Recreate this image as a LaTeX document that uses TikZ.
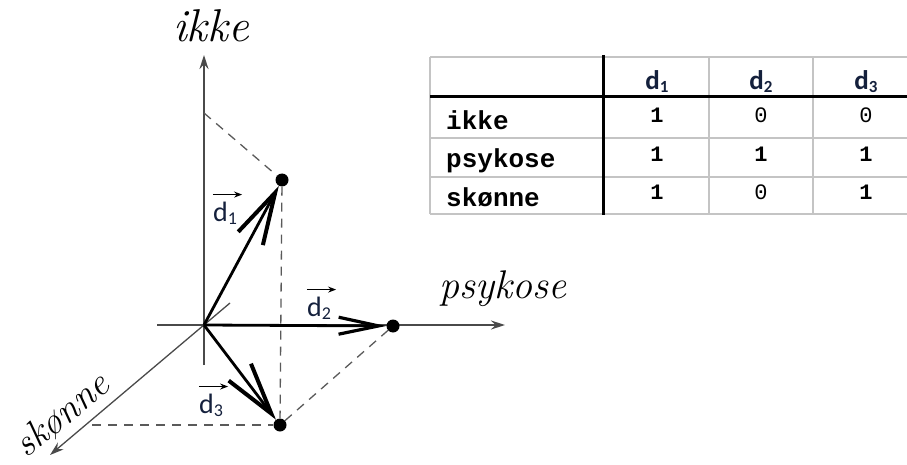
\documentclass[tikz,border=0pt]{standalone}
\usepackage{fontspec}
\newfontfamily\monof{Liberation Mono}
\newfontfamily\calib{Carlito}
\usetikzlibrary{arrows.meta}
\definecolor{axisgray}{HTML}{4A4A4A}
\definecolor{dashgray}{HTML}{5A5A5A}
\definecolor{gridgray}{HTML}{C4C4C4}
\definecolor{labink}{HTML}{14203C}
\newcommand{\vsub}[1]{d\raisebox{-3pt}{\fontsize{18}{18}\selectfont #1}}
\newcommand{\hsub}[1]{d\raisebox{-3pt}{\fontsize{17}{17}\selectfont #1}}
\tikzset{
 axisline/.style={draw=axisgray, line width=1.3pt, -{Stealth[length=14pt,width=9pt]}},
 guide/.style={draw=dashgray, line width=1.3pt, dash pattern=on 9pt off 7pt},
 vdot/.style={circle, fill=black, inner sep=0, minimum size=13pt},
 vecbig/.style={draw=black, line width=2.8pt, -{Straight Barb[length=52pt,width=28pt,line width=4pt]}},
 vecsmall/.style={draw=black, line width=2.8pt, -{Straight Barb[length=40pt,width=17pt,line width=3.2pt]}},
 axislab/.style={font=\fontsize{40}{40}\selectfont\itshape, inner sep=0},
 veclab/.style={font=\calib\fontsize{28}{28}\selectfont, text=labink, inner sep=0},
 overarrow/.style={draw=black, line width=1.3pt, -{Stealth[length=8pt,width=6pt]}},
 tablegrid/.style={draw=gridgray, line width=1.5pt},
 tablerule/.style={draw=black, line width=3pt},
 rowlab/.style={font=\monof\bfseries\fontsize{26}{26}\selectfont, anchor=base west, inner sep=0},
 cellb/.style={font=\monof\bfseries\fontsize{22}{22}\selectfont, inner sep=0},
 cellr/.style={font=\monof\fontsize{22}{22}\selectfont, inner sep=0},
 headlab/.style={font=\calib\bfseries\fontsize{27}{27}\selectfont, text=labink, anchor=base, inner sep=0},
}
\begin{document}
\begin{tikzpicture}[x=1pt,y=-1pt]
\useasboundingbox (0,0) rectangle (907,465);
% axes
\coordinate (O) at (204,325);
\coordinate (ikkeLow) at (204,365);
\coordinate (ikkeTip) at (204,55);
\coordinate (psyLow) at (157,325);
\coordinate (psyTip) at (505,325);
\coordinate (skoLow) at (230,303);
\coordinate (skoTip) at (50,455);
\draw[axisline] (ikkeLow) -- (ikkeTip);
\draw[axisline] (psyLow) -- (psyTip);
\draw[axisline] (skoLow) -- (skoTip);
\node[axislab, anchor=base, font=\fontsize{46}{46}\selectfont\itshape] (lik) at (211,42) {ikke};
\node[axislab, anchor=base] (lps) at (503,298) {psykose};
\node[axislab, rotate=39, font=\fontsize{38}{38}\selectfont\itshape] (lsk) at (62,415) {skønne};
% points
\node[vdot] (p1) at (282,180) {};
\node[vdot] (p2) at (393,326) {};
\node[vdot] (p3) at (280,425) {};
\coordinate (ik1) at (204,113);
\coordinate (sk3) at (92,425);
% guides
\draw[guide] (ik1) -- (p1);
\draw[guide] (p1) -- (p3);
\draw[guide] (sk3) -- (p3);
\draw[guide] (p3) -- (p2);
% vectors
\draw[vecbig] (O) -- (p1);
\draw[vecsmall] (O) -- (p2);
\draw[vecbig] (O) -- (p3);
% vector labels
\node[veclab] (v1) at (225,213) {\vsub{1}};
\node[veclab] (v2) at (319,308) {\vsub{2}};
\node[veclab] (v3) at (211,405) {\vsub{3}};
\draw[overarrow] ([yshift=7pt]v1.north west) -- ([xshift=5pt,yshift=7pt]v1.north east);
\draw[overarrow] ([yshift=7pt]v2.north west) -- ([xshift=5pt,yshift=7pt]v2.north east);
\draw[overarrow] ([yshift=7pt]v3.north west) -- ([xshift=5pt,yshift=7pt]v3.north east);
% table
\draw[tablegrid] (430,57) -- (907,57);
\draw[tablegrid] (430,214) -- (907,214);
\draw[tablegrid] (430,57) -- (430,214);
\draw[tablegrid] (430,138) -- (907,138);
\draw[tablegrid] (430,177) -- (907,177);
\draw[tablegrid] (709,57) -- (709,214);
\draw[tablegrid] (813,57) -- (813,214);
\draw[tablerule] (430,97) -- (907,97);
\draw[tablerule] (603,55) -- (603,215);
\node[headlab] (h1) at (657,90) {\hsub{1}};
\node[headlab] (h2) at (761,90) {\hsub{2}};
\node[headlab] (h3) at (866,90) {\hsub{3}};
\node[rowlab] (r1) at (446,130) {ikke};
\node[rowlab] (r2) at (446,168) {psykose};
\node[rowlab] (r3) at (446,207) {skønne};
\node[cellb] (c11) at (657,115) {1};
\node[cellr] (c12) at (761,115) {0};
\node[cellr] (c13) at (866,115) {0};
\node[cellb] (c21) at (657,154) {1};
\node[cellb] (c22) at (761,154) {1};
\node[cellb] (c23) at (866,154) {1};
\node[cellb] (c31) at (657,192) {1};
\node[cellr] (c32) at (761,192) {0};
\node[cellb] (c33) at (866,192) {1};
\end{tikzpicture}
\end{document}
